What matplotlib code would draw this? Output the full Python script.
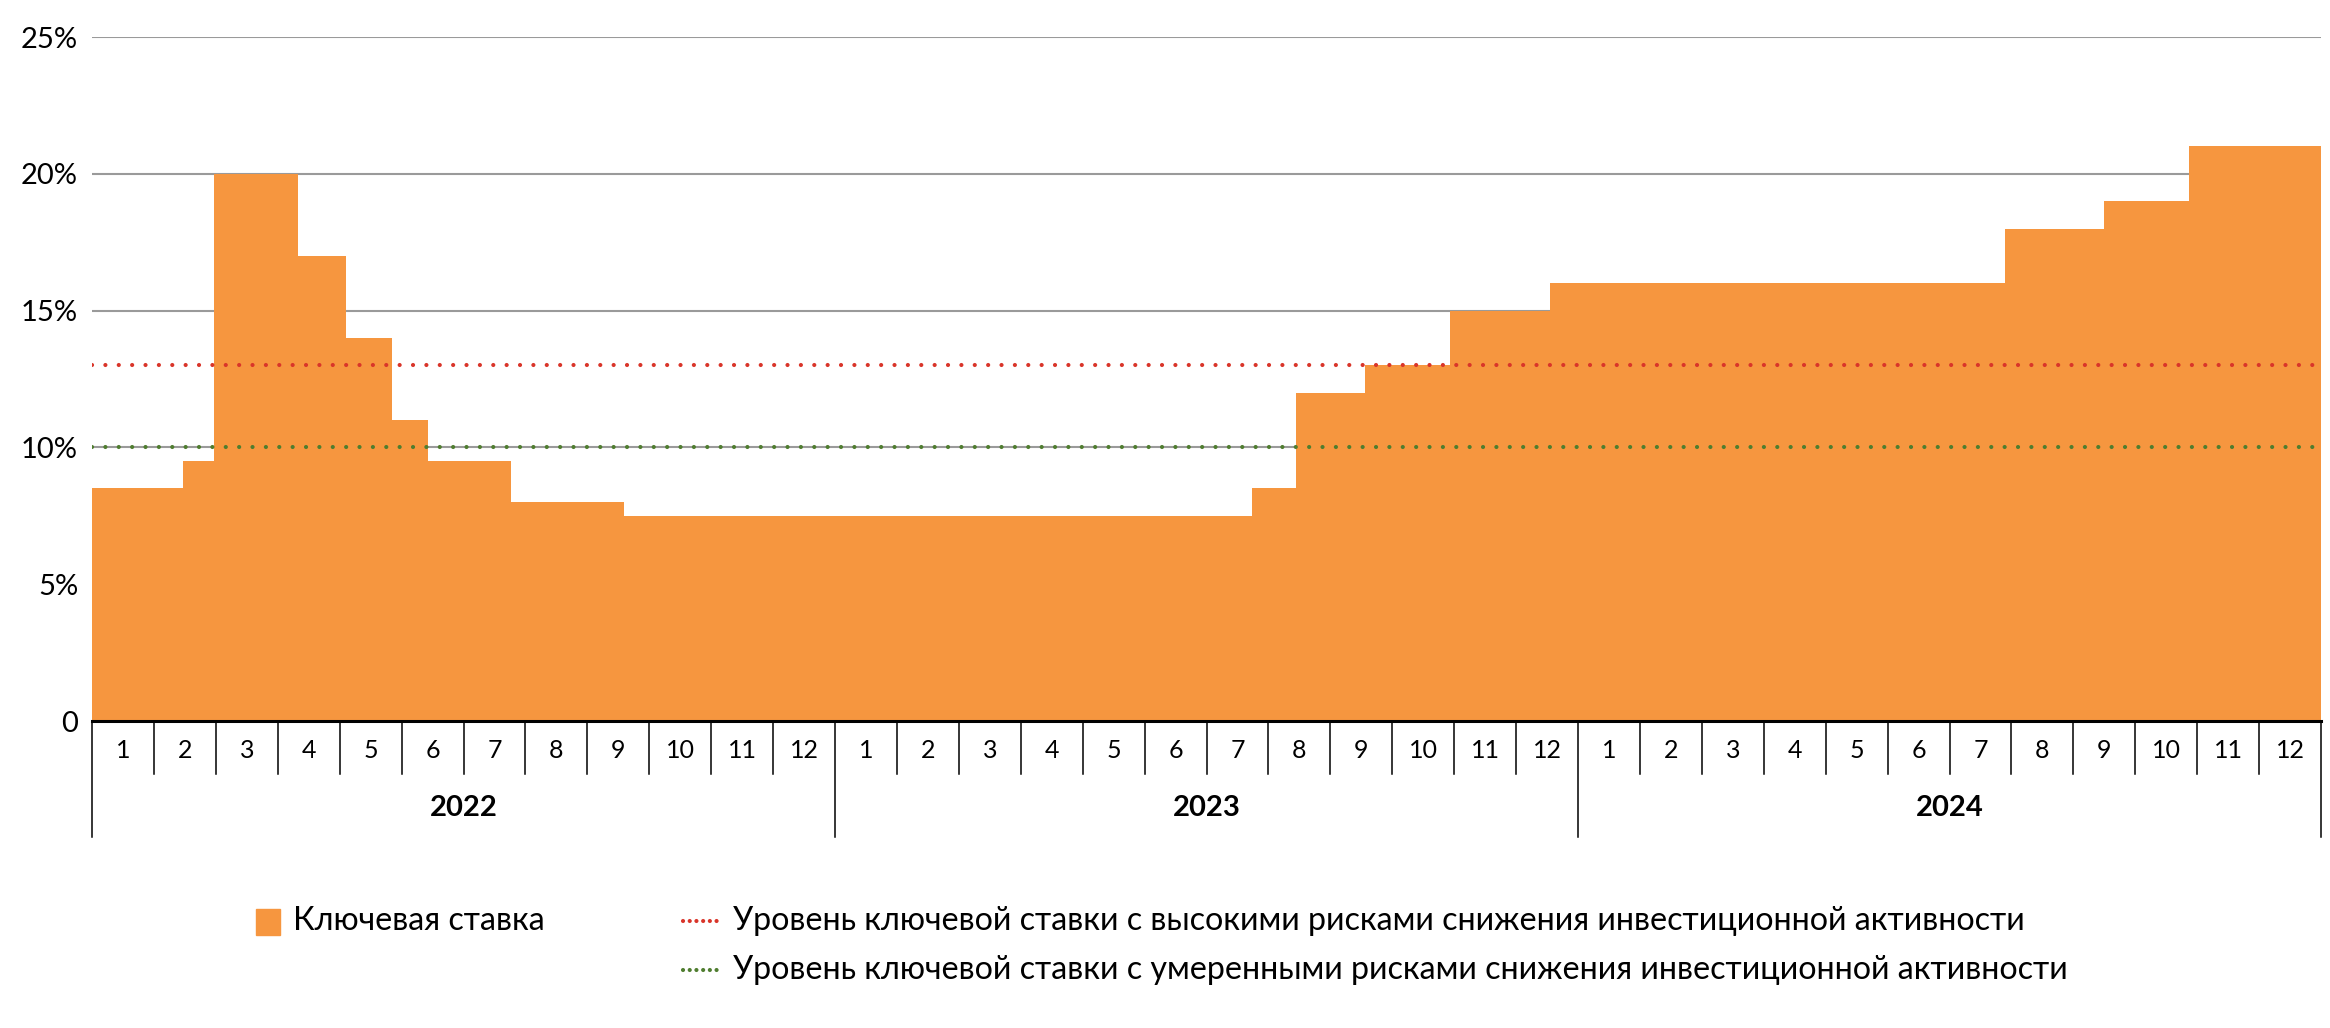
import calendar
import matplotlib
matplotlib.use("Agg")
import matplotlib.pyplot as plt
from matplotlib.lines import Line2D
from matplotlib.patches import Rectangle

plt.rcParams["font.family"] = ["Lato", "DejaVu Sans"]

# key rate changes (date of change, new rate, %)
change_dates = ["2022-01-01", "2022-02-14", "2022-02-28", "2022-04-11", "2022-05-04",
                "2022-05-27", "2022-06-14", "2022-07-25", "2022-09-19", "2023-07-24",
                "2023-08-15", "2023-09-18", "2023-10-30", "2023-12-18", "2024-07-29",
                "2024-09-16", "2024-10-28"]
key_rate = [8.5, 9.5, 20, 17, 14, 11, 9.5, 8, 7.5, 8.5, 12, 13, 15, 16, 18, 19, 21]

years = [2022, 2023, 2024]
month_labels = [str(m) for m in range(1, 13)]
high_risk_level = 13
moderate_risk_level = 10
y_ticks = [0, 5, 10, 15, 20, 25]
y_tick_labels = ["0", "5%", "10%", "15%", "20%", "25%"]

label_rate = "Ключевая ставка"
label_high = "Уровень ключевой ставки с высокими рисками снижения инвестиционной активности"
label_moderate = "Уровень ключевой ставки с умеренными рисками снижения инвестиционной активности"

ORANGE = "#F6963F"
RED = "#D9352A"
GREEN = "#4F7D2F"


def date_to_x(s):
    y, m, d = (int(p) for p in s.split("-"))
    ndays = calendar.monthrange(y, m)[1]
    return (y - years[0]) * 12 + (m - 1) + (d - 1) / ndays


n_months = len(years) * 12
xs = [date_to_x(d) for d in change_dates] + [n_months]
ys = key_rate + [key_rate[-1]]

fig = plt.figure(figsize=(23.3, 10.28), dpi=100)
ax = fig.add_axes([92 / 2330, 1 - 721 / 1028, (2321 - 92) / 2330, (721 - 37) / 1028])

ax.fill_between(xs, ys, 0, step="post", color=ORANGE, linewidth=0, zorder=2)

dot_style = dict(linewidth=3.0, dashes=(0.01, 3.2), dash_capstyle="round", zorder=3)
ax.axhline(high_risk_level, color=RED, **dot_style)
ax.axhline(moderate_risk_level, color=GREEN, **dot_style)

ax.set_xlim(0, n_months)
ax.set_ylim(0, 25)
ax.set_yticks(y_ticks)
ax.set_yticklabels(y_tick_labels, fontsize=21)
ax.tick_params(axis="y", length=0, pad=10)
ax.set_xticks([])
ax.yaxis.grid(True, color="#9a9a9a", linewidth=1.5, zorder=1)
ax.set_axisbelow(True)
for side in ["top", "right", "left"]:
    ax.spines[side].set_visible(False)
ax.spines["bottom"].set_linewidth(2.2)
ax.spines["bottom"].set_color("black")
ax.spines["bottom"].set_zorder(4)

trans = ax.get_xaxis_transform()
month_bottom = -0.0775
year_bottom = -0.1696
for i in range(n_months + 1):
    bottom = year_bottom if i % 12 == 0 else month_bottom
    ax.plot([i, i], [0, bottom], color="black", linewidth=1.1, transform=trans, clip_on=False)
for i in range(n_months):
    ax.text(i + 0.5, -0.0424, month_labels[i % 12], transform=trans, ha="center", va="center",
            fontsize=18)
for k, yr in enumerate(years):
    ax.text(k * 12 + 6, -0.127, str(yr), transform=trans, ha="center", va="center",
            fontsize=21, fontweight="bold")

# legend
fig.patches.append(Rectangle((256 / 2330, 1 - 935 / 1028), 24 / 2330, 26 / 1028,
                             transform=fig.transFigure, color=ORANGE))
fig.text(293 / 2330, 1 - 921 / 1028, label_rate, fontsize=23.2, va="center")
for yy, col, lab in [(921, RED, label_high), (970, GREEN, label_moderate)]:
    fig.lines.append(Line2D([683 / 2330, 722 / 2330], [1 - yy / 1028] * 2, color=col,
                            transform=fig.transFigure, linewidth=3.0, dashes=(0.01, 1.6),
                            dash_capstyle="round"))
    fig.text(733 / 2330, 1 - yy / 1028, lab, fontsize=23.2, va="center")

fig.savefig("out.png", dpi=100)
